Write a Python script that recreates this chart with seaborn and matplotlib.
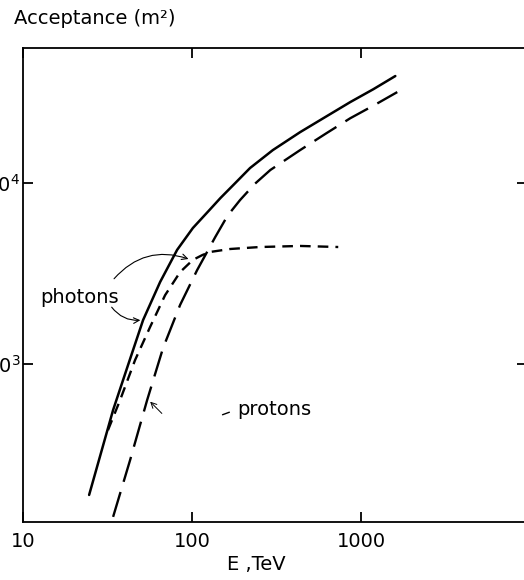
import numpy as np
import pandas as pd
import matplotlib
matplotlib.use('Agg')
import matplotlib.pyplot as plt
import seaborn as sns

# curves (E in TeV, acceptance in m^2)
solid_E = [24.6, 34.1, 41.8, 51.3, 64.7, 81.5, 101, 125, 147, 180, 220, 300, 435, 620, 861, 1180, 1590]
solid_A = [189, 557, 987, 1750, 2840, 4270, 5640, 7000, 8260, 10000, 12100, 15200, 19100, 23300, 28000, 33000, 39000]

photon_E = [31.8, 37.5, 46.0, 56.4, 69.2, 84.9, 101, 115, 128, 168, 252, 435, 731]
photon_A = [431, 632, 1052, 1600, 2400, 3220, 3760, 4000, 4160, 4320, 4430, 4490, 4430]

proton_E = [34.1, 43.0, 54.2, 67.3, 84.9, 107, 137, 162, 192, 235, 290, 435, 620, 861, 1200, 1633]
proton_A = [143, 295, 632, 1225, 2120, 3300, 5030, 6600, 8050, 9900, 11800, 15200, 18800, 22800, 27000, 31800]

x_ticks = [10, 100, 1000]
x_labels = ['10', '100', '1000']
y_ticks = [1e3, 1e4]
y_labels = ['$10^3$', '$10^4$']

sns.set_style('ticks')
plt.rcParams['font.family'] = ['DejaVu Sans']
plt.rcParams['mathtext.default'] = 'regular'
plt.rcParams['text.color'] = 'black'
plt.rcParams['xtick.color'] = 'black'
plt.rcParams['ytick.color'] = 'black'

fig = plt.figure(figsize=(5.24, 5.8), dpi=100)
ax = fig.add_axes([23/524, 58/580, 504/524, 474/580])

sns.lineplot(x=solid_E, y=solid_A, ax=ax, color='black', linewidth=1.8)
sns.lineplot(x=photon_E, y=photon_A, ax=ax, color='black', linewidth=1.7,
             linestyle=(0, (4.5, 3)))
sns.lineplot(x=proton_E, y=proton_A, ax=ax, color='black', linewidth=1.7,
             linestyle=(0, (11, 4.5)))

ax.set_xscale('log')
ax.set_yscale('log')
ax.set_xlim(10, 10**3.98)
ax.set_ylim(10**2.127, 10**4.746)
ax.set_xticks(x_ticks)
ax.set_xticklabels(x_labels)
ax.set_yticks(y_ticks)
ax.set_yticklabels(y_labels)
ax.minorticks_off()
ax.tick_params(direction='in', length=7, width=1.3, top=True, right=True,
               labelsize=14, color='black', labelcolor='black')
ax.tick_params(axis='x', pad=7)
ax.tick_params(axis='y', pad=2)
for s in ax.spines.values():
    s.set_linewidth(1.3)
    s.set_color('black')
ax.spines['right'].set_visible(False)

# labels
ax.text(21.7, 2345, 'photons', fontsize=14, ha='center', va='center')
ax.annotate('', xy=(98.6, 3760), xytext=(33.7, 2880),
            arrowprops=dict(arrowstyle='->', color='black', lw=0.8,
                            connectionstyle='arc3,rad=-0.35'))
ax.annotate('', xy=(51.3, 1750), xytext=(32.7, 2120),
            arrowprops=dict(arrowstyle='->', color='black', lw=0.8,
                            connectionstyle='arc3,rad=0.3'))
ax.text(184.5, 557, 'protons', fontsize=14, ha='left', va='center')
ax.annotate('', xy=(172, 548), xytext=(146, 518),
            arrowprops=dict(arrowstyle='-', color='black', lw=1.0))
ax.annotate('', xy=(55, 635), xytext=(68, 520),
            arrowprops=dict(arrowstyle='->', color='black', lw=0.7))

fig.text(14/524, 1 - 18/580, 'Acceptance (m²)', fontsize=14, ha='left', va='center')
fig.text(256/524, 1 - 565/580, 'E ,TeV', fontsize=14, ha='center', va='center')

fig.savefig('out.png', dpi=100)
